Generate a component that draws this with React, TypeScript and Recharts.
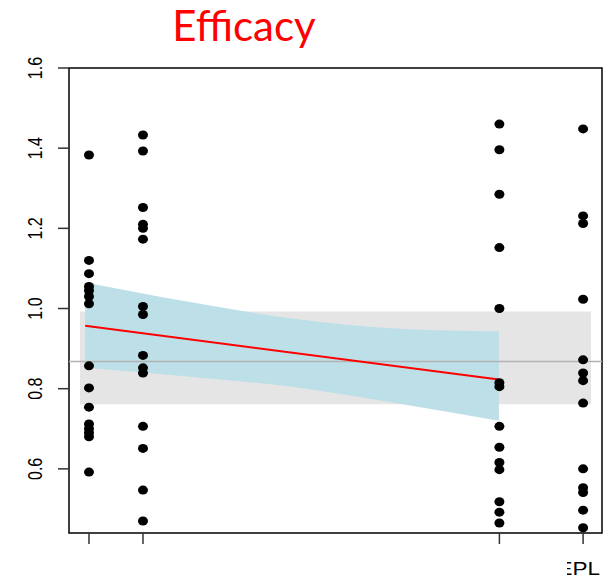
import React from 'react';
import {
  ComposedChart,
  Area,
  Scatter,
  XAxis,
  YAxis,
  ReferenceArea,
  ReferenceLine,
} from 'recharts';

// visit positions on the x axis
const visitPos = [0, 1, 7.6, 9.15];
const visitLabels = ['', '', '', 'EPL'];

// individual values per visit
const visit1 = [1.383, 1.12, 1.087, 1.055, 1.045, 1.03, 1.012, 0.857, 0.802, 0.754, 0.712, 0.7, 0.69, 0.68, 0.592];
const visit2 = [1.433, 1.393, 1.252, 1.21, 1.2, 1.173, 1.005, 0.985, 0.883, 0.852, 0.839, 0.706, 0.651, 0.547, 0.47];
const visit3 = [1.46, 1.396, 1.285, 1.152, 1.0, 0.815, 0.805, 0.706, 0.654, 0.616, 0.598, 0.518, 0.492, 0.465];
const visit4 = [1.448, 1.231, 1.212, 1.023, 0.872, 0.839, 0.82, 0.764, 0.6, 0.553, 0.541, 0.497, 0.453];

// regression fit + confidence band
const bandX = [-0.07, 1.87, 3.76, 5.67, 7.59];
const bandLow = [0.852, 0.83, 0.805, 0.764, 0.72];
const bandHigh = [1.065, 1.016, 0.975, 0.95, 0.943];
const fitStart = { x: -0.07, y: 0.957 };
const fitEnd = { x: 7.59, y: 0.823 };

// reference range (grey) and reference value
const refLow = 0.761;
const refHigh = 0.9925;
const refX = [-0.167, 9.296];
const refValue = 0.868;

const yTicks = [0.6, 0.8, 1.0, 1.2, 1.4, 1.6];
const xDomain = [-0.37, 9.5];
const yDomain = [0.44, 1.6];

const bandData = bandX.map((x, i) => ({ x, range: [bandLow[i], bandHigh[i]] }));
const points = [visit1, visit2, visit3, visit4].flatMap((vals, i) =>
  vals.map((y) => ({ x: visitPos[i], y }))
);

const FONT = '"Liberation Sans", Arial, sans-serif';

const YTick = (props: any) => {
  const { x, y, payload } = props;
  return (
    <text
      transform={`translate(${x - 22.5},${y}) scale(1.25,1) rotate(-90)`}
      textAnchor="middle"
      dominantBaseline="central"
      fontSize={16}
      fontFamily={FONT}
      fill="#000"
    >
      {payload.value.toFixed(1)}
    </text>
  );
};

const XTick = (props: any) => {
  const { x, y, index } = props;
  const label = visitLabels[index];
  if (!label) return null;
  // the first letter is partly hidden in the original
  return (
    <g>
      <defs>
        <clipPath id="xlabclip">
          <rect x={x - 16} y={y} width={40} height={40} />
        </clipPath>
      </defs>
      <g clipPath="url(#xlabclip)">
        <text
          transform={`translate(${x + 17},${y + 31}) scale(1.25,1)`}
          textAnchor="end"
          fontSize={18}
          fontFamily={FONT}
          fill="#000"
        >
          {label}
        </text>
      </g>
    </g>
  );
};

const Dot = (props: any) => (
  <ellipse cx={props.cx} cy={props.cy} rx={5} ry={4.5} fill="#000" />
);

export default function App() {
  return (
    <div style={{ position: 'absolute', left: 0, top: 0, width: 615, height: 580, background: '#fff' }}>
      <div style={{ position: 'absolute', left: 0, top: 0 }}>
        <ComposedChart
          width={615}
          height={580}
          data={bandData}
          margin={{ top: 68, right: 13, bottom: 0, left: 0 }}
        >
          <XAxis
            dataKey="x"
            type="number"
            domain={xDomain}
            ticks={visitPos}
            allowDataOverflow
            axisLine={false}
            tickLine={{ stroke: '#333', strokeWidth: 1.5 }}
            tickSize={11}
            tickMargin={0}
            height={47}
            tick={<XTick />}
            interval={0}
          />
          <YAxis
            type="number"
            domain={yDomain}
            ticks={yTicks}
            allowDataOverflow
            axisLine={false}
            tickLine={{ stroke: '#333', strokeWidth: 1.5 }}
            tickSize={11}
            tickMargin={0}
            width={69}
            tick={<YTick />}
            interval={0}
          />
          <ReferenceArea
            x1={refX[0]}
            x2={refX[1]}
            y1={refLow}
            y2={refHigh}
            fill="#e5e5e5"
            fillOpacity={1}
            stroke="none"
          />
          <Area
            dataKey="range"
            type="monotone"
            stroke="none"
            fill="#bcdfe8"
            fillOpacity={1}
            isAnimationActive={false}
          />
          <ReferenceLine y={refValue} stroke="#b3b3b3" strokeWidth={1.5} />
          <ReferenceLine segment={[fitStart, fitEnd]} stroke="#ff0000" strokeWidth={2} />
          <Scatter data={points} dataKey="y" shape={<Dot />} isAnimationActive={false} />
          <ReferenceArea
            x1={xDomain[0]}
            x2={xDomain[1]}
            y1={yDomain[0]}
            y2={yDomain[1]}
            fill="none"
            stroke="#000"
            strokeWidth={1.5}
          />
        </ComposedChart>
      </div>
      <div
        style={{
          position: 'absolute',
          left: 0,
          top: 0,
          width: 488,
          textAlign: 'center',
          fontFamily: 'Lato, sans-serif',
          fontSize: 42,
          lineHeight: '50px',
          color: '#ff0000',
        }}
      >
        Efficacy
      </div>
    </div>
  );
}
